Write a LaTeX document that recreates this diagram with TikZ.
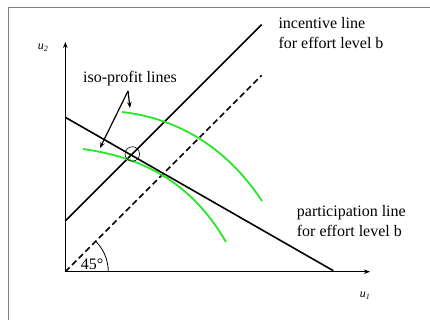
\documentclass[tikz,border=0pt]{standalone}
\usepackage{fontspec}
\setmainfont{Liberation Serif}
\usetikzlibrary{arrows.meta,calc}
\begin{document}
\begin{tikzpicture}[x=1pt,y=-1pt,
  axis/.style={line width=1.5pt,-{Stealth[length=6pt,width=4.5pt]}},
  bline/.style={line width=1.6pt},
  green/.style={line width=1.8pt,draw={rgb,255:red,40;green,230;blue,40}},
  lbl/.style={font=\fontsize{16}{20}\selectfont,inner sep=0pt,align=left},
  ax/.style={font=\fontsize{12}{14}\selectfont\itshape,inner sep=0pt},
  arr/.style={line width=1.2pt,-{Stealth[length=6pt,width=4.5pt]}}]
\useasboundingbox (0,0) rectangle (430,320);
\draw[gray,line width=0.9pt] (8,320) -- (8,7.3) -- (430,7.3);
% coordinates
\coordinate (O) at (65.3,271.7);
\coordinate (ytop) at (65.3,42);
\coordinate (xend) at (370,271.7);
\coordinate (pA) at (65.3,117.3);
\coordinate (pB) at (333.3,270.7);
\coordinate (iA) at (65.3,221);
\coordinate (iB) at (261.7,24.6);
\coordinate (dB) at (261.7,75.4);
% axes
\draw[axis] (O) -- (ytop);
\draw[axis] (O) -- (xend);
\node[ax] (u2) at (43,48) {u\textsubscript{2}};
\node[ax] (u1) at (365,296) {u\textsubscript{1}};
% lines
\draw[bline] (pA) -- (pB);
\draw[bline] (iA) -- (iB);
\draw[bline,dash pattern=on 6pt off 3.5pt] (O) -- (dB);
% angle
\draw[line width=0.8pt] ($(O)+(43,0)$) arc[start angle=0,end angle=-45,radius=43];
\node[lbl] (ang) at (92,264) {45°};
% green curves
\draw[green] (122,112) .. controls (175,118) and (225,145) .. (262,201);
\draw[green] (83,149) .. controls (140,157) and (190,180) .. (226,242);
% circle
\node[draw,circle,minimum size=14.5pt,inner sep=0pt,line width=0.6pt] (c) at (132.3,154) {};
% labels
\node[lbl] (iso) at (130,79) {iso-profit lines};
\coordinate (as) at (128,91);
\coordinate (a1) at (100,148);
\coordinate (a2) at (130,108);
\draw[arr] (as) -- (a1);
\draw[arr] (as) -- (a2);
\node[lbl,anchor=west] (inc) at (278.3,32.7) {incentive line\\for effort level b};
\node[lbl,anchor=west] (par) at (296.7,221) {participation line\\for effort level b};
\end{tikzpicture}
\end{document}
